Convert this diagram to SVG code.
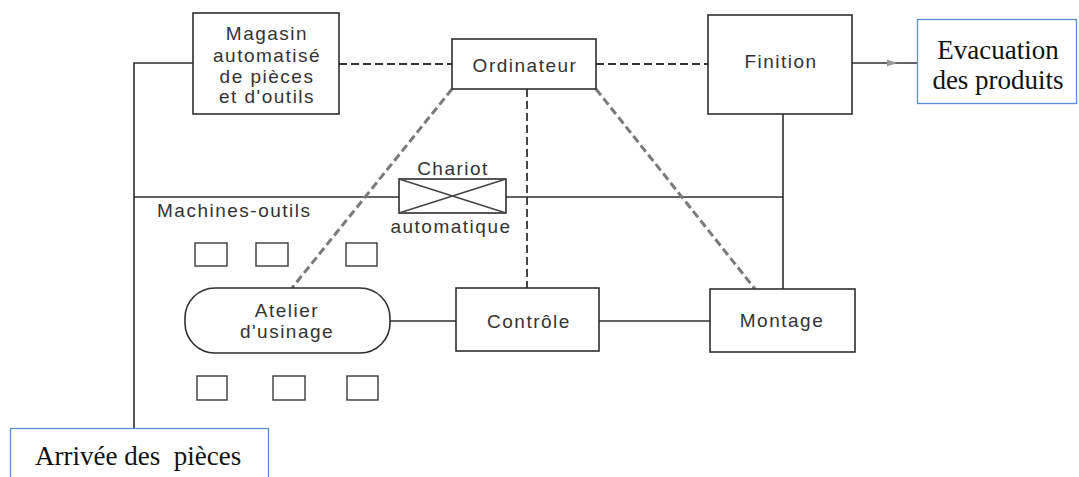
<svg xmlns="http://www.w3.org/2000/svg" width="1079" height="477" viewBox="0 0 1079 477">
  <style>
    .box { fill: #fff; stroke: #2e2e2e; stroke-width: 1.6; }
    .sq { fill: none; stroke: #3a3a3a; stroke-width: 1.4; }
    .lbl { font-family: "Liberation Sans", Arial, sans-serif; font-size: 19px; fill: #333; letter-spacing: 1.5px; text-anchor: middle; }
    .wire { fill: none; stroke: #2e2e2e; stroke-width: 1.6; }
    .dash { fill: none; stroke: #333; stroke-width: 1.8; stroke-dasharray: 8 4; }
    .dashd { fill: none; stroke: #7a7a7a; stroke-width: 3; stroke-dasharray: 8 4; }
    .ext { fill: #fff; stroke: #5b8fd6; stroke-width: 1.3; }
    .serif { font-family: "Liberation Serif", "Times New Roman", serif; font-size: 27px; fill: #111; }
  </style>

  <!-- links between stations -->
  <g id="connectors">
    <!-- incoming parts line and store feed -->
    <polyline class="wire" points="134,428 134,63 193,63"/>
    <!-- transport rail -->
    <line class="wire" x1="134" y1="197" x2="399" y2="197"/>
    <line class="wire" x1="506" y1="197" x2="783" y2="197"/>
    <line class="wire" x1="783" y1="114" x2="783" y2="289"/>
    <!-- production flow -->
    <line class="wire" x1="390" y1="321" x2="456" y2="321"/>
    <line class="wire" x1="599" y1="321" x2="710" y2="321"/>
    <!-- finished goods out -->
    <line class="wire" x1="852" y1="63" x2="917" y2="63" stroke-width="1.2"/>
    <path d="M887,59.5 L897,63 L887,66.5 Z" fill="#999"/>
    <!-- computer control links -->
    <line class="dash" x1="339" y1="64" x2="452" y2="64"/>
    <line class="dash" x1="596" y1="64" x2="708" y2="64"/>
    <line class="dash" x1="527" y1="89" x2="527" y2="288" stroke-dasharray="6 4"/>
    <line class="dashd" x1="452" y1="89" x2="292" y2="288"/>
    <line class="dashd" x1="596" y1="89" x2="755" y2="289"/>
  </g>

  <g id="magasin">
    <rect class="box" x="193" y="13" width="146" height="101"/>
    <text class="lbl" x="267" y="40">Magasin</text>
    <text class="lbl" x="267" y="62">automatisé</text>
    <text class="lbl" x="267" y="83">de pièces</text>
    <text class="lbl" x="267" y="103">et d'outils</text>
  </g>

  <g id="ordinateur">
    <rect class="box" x="452" y="39" width="144" height="50"/>
    <text class="lbl" x="525" y="72">Ordinateur</text>
  </g>

  <g id="finition">
    <rect class="box" x="708" y="15" width="144" height="99"/>
    <text class="lbl" x="781" y="68">Finition</text>
  </g>

  <g id="evacuation">
    <rect class="ext" x="917.5" y="19.5" width="159" height="84"/>
    <text class="serif" x="998" y="59" text-anchor="middle">Evacuation</text>
    <text class="serif" x="998" y="89" text-anchor="middle">des produits</text>
  </g>

  <g id="chariot">
    <rect class="box" x="399" y="179" width="107" height="34"/>
    <path d="M399,179 L506,213 M506,179 L399,213" stroke="#444" stroke-width="1.5" fill="none"/>
    <text class="lbl" x="453" y="175">Chariot</text>
    <text class="lbl" x="451" y="233">automatique</text>
  </g>

  <g id="machines-outils">
    <text class="lbl" x="157" y="217" style="text-anchor:start">Machines-outils</text>
    <rect class="sq" x="195" y="243" width="32" height="23"/>
    <rect class="sq" x="256" y="243" width="32" height="23"/>
    <rect class="sq" x="346" y="243" width="31" height="23"/>
    <rect class="sq" x="197" y="376" width="30" height="24"/>
    <rect class="sq" x="273" y="376" width="32" height="24"/>
    <rect class="sq" x="347" y="376" width="31" height="24"/>
  </g>

  <g id="atelier">
    <rect class="box" x="185" y="288" width="205" height="65" rx="30" ry="30"/>
    <text class="lbl" x="287" y="317">Atelier</text>
    <text class="lbl" x="287" y="338">d'usinage</text>
  </g>

  <g id="controle">
    <rect class="box" x="456" y="288" width="143" height="63"/>
    <text class="lbl" x="529" y="328">Contrôle</text>
  </g>

  <g id="montage">
    <rect class="box" x="710" y="289" width="145" height="63"/>
    <text class="lbl" x="782" y="327">Montage</text>
  </g>

  <g id="arrivee">
    <rect class="ext" x="10.5" y="428.5" width="258" height="60"/>
    <text class="serif" x="35" y="465" style="white-space:pre">Arrivée des  pièces</text>
  </g>
</svg>
